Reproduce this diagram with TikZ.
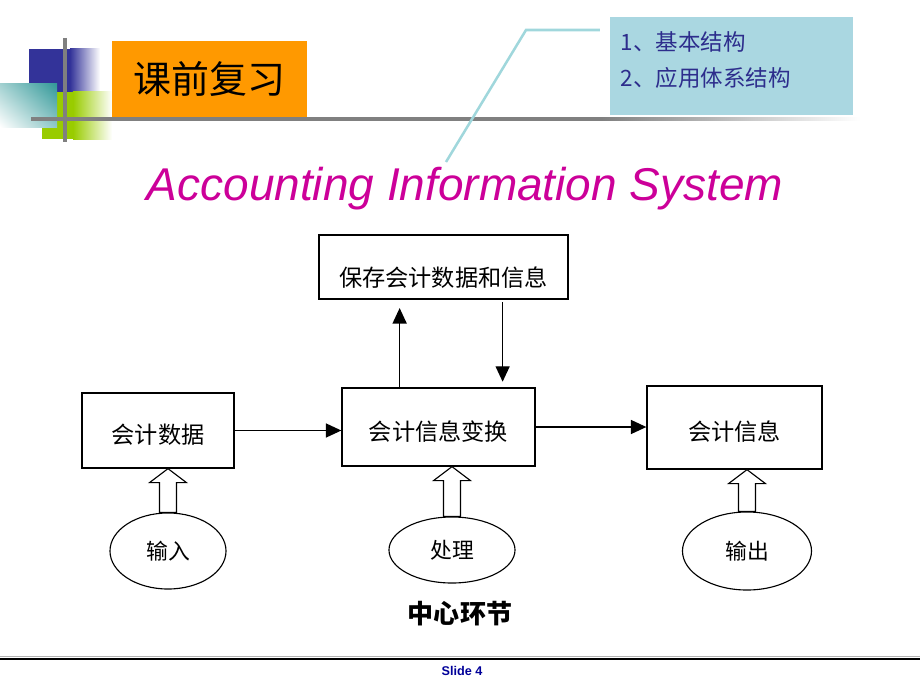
\documentclass[tikz,border=0pt]{standalone}
\usepackage{fontspec}
\usepackage{tikz}
\usetikzlibrary{arrows.meta,calc,shapes.geometric,shadings}
\newfontfamily\cjk{Noto Sans CJK SC}
\newfontfamily\arialfont{Liberation Sans}
\definecolor{slideblue}{RGB}{51,51,153}
\definecolor{slidegreen}{RGB}{153,204,0}
\definecolor{slideteal}{RGB}{51,153,153}
\definecolor{slideorange}{RGB}{255,153,0}
\definecolor{notebox}{RGB}{170,215,225}
\definecolor{notetext}{RGB}{45,45,140}
\definecolor{notelink}{RGB}{160,215,220}
\definecolor{titlepink}{RGB}{204,0,153}
\definecolor{footblue}{RGB}{0,0,153}

\begin{document}
\begin{tikzpicture}[
            > = {Triangle[length=11pt,width=10pt]}, % filled arrow heads
            x = 0.025cm, y = -0.025cm, % one unit per pixel, y downwards
            box/.style = {draw=black, line width=0.9pt, inner sep=0pt, text height=21pt, text depth=2pt,
                          font=\cjk\fontsize{16.5}{19}\selectfont},
            oval/.style = {ellipse, draw=black, line width=0.8pt, inner sep=0pt, font=\cjk\fontsize{15.5}{18}\selectfont},
            hollow/.style = {draw=black, fill=white, line width=0.8pt, line join=miter},
            flow/.style = {->, line width=1pt}
        ]
\useasboundingbox (0,0) rectangle (920,690);

% corner decoration
\fill[slideblue] (29,49) rectangle (70,92);
\shade[left color=slideblue, right color=white] (70,49) rectangle (100,92);
\fill[slidegreen] (42,92) rectangle (73,139);
\shade[left color=slidegreen, right color=white] (73,92) rectangle (112,139);
\shade[upper right=slideteal, lower left=white, upper left=slideteal!45, lower right=slideteal!55] (0,84) rectangle (57,127);
\draw[gray, line width=2.5pt] (65,38) -- (65,142);
\draw[gray, line width=2.5pt] (31,119) -- (600,119);
\shade[left color=gray, right color=white] (600,117.3) rectangle (860,120.7);

% heading and notes
\node[fill=slideorange, minimum width=4.875cm, minimum height=1.9cm, inner sep=0pt,
      font=\cjk\fontsize{27}{32}\selectfont] (review) at (209.5,79) {课前复习};
\node[fill=notebox, minimum width=6.075cm, minimum height=2.45cm, inner sep=0pt] (notes) at (731.5,66) {};
\node[anchor=west, text=notetext, font=\cjk\fontsize{16}{19}\selectfont] (item1) at (616,42) {1、基本结构};
\node[anchor=west, text=notetext, font=\cjk\fontsize{16}{19}\selectfont] (item2) at (616,78) {2、应用体系结构};
\coordinate (bend) at (526,30);
\coordinate (linkend) at (446,162);
\draw[notelink, line width=1.8pt, shorten >=7pt] (linkend) -- (bend) -- (notes.west |- bend);

\node[anchor=base, text=titlepink, font=\arialfont\itshape\fontsize{32.7}{40}\selectfont] (title) at (465,200) {Accounting Information System};

% flow chart
\node[box, text height=30pt, minimum width=6.225cm, minimum height=1.6cm] (store) at (443.5,267) {保存会计数据和信息};
\node[box, minimum width=3.8cm, minimum height=1.875cm] (dat) at (158,430.5) {会计数据};
\node[box, minimum width=4.825cm, minimum height=1.95cm] (trans) at (438.5,427) {会计信息变换};
\node[box, minimum width=4.375cm, minimum height=2.075cm] (info) at (734.5,427.5) {会计信息};

\node[oval, minimum width=2.9cm, minimum height=1.9cm] (inp) at (168,551) {输入};
\node[oval, minimum width=3.15cm, minimum height=1.65cm] (proc) at (452,550) {处理};
\node[oval, minimum width=3.225cm, minimum height=1.95cm] (outp) at (747,551) {输出};

\draw[flow] (dat.east) -- (dat.east -| trans.west);
\draw[flow] (trans.east) -- (trans.east -| info.west);
\coordinate (up) at ($(trans.north west)!0.3!(trans.north east)$);
\coordinate (down) at ($(trans.north west)!0.83!(trans.north east)$);
\draw[flow, shorten >=6pt] (up) -- (up |- store.south);
\draw[flow, shorten <=2pt, shorten >=4pt] (down |- store.south) -- (down);

\foreach \src/\dst in {inp/dat, proc/trans, outp/info} {
  \coordinate (\src-tip) at (\src.north |- \dst.south);
  \draw[hollow] ($(\src.north)+(-8.5,0)$) -- ($(\src-tip)+(-8.5,14)$) -- ($(\src-tip)+(-18.5,14)$)
    -- (\src-tip) -- ($(\src-tip)+(18.5,14)$) -- ($(\src-tip)+(8.5,14)$) -- ($(\src.north)+(8.5,0)$) -- cycle;
}

\node[font=\cjk\bfseries\fontsize{18.5}{22}\selectfont] (core) at (460,614) {中心环节};

% footer
\draw[gray!60, line width=0.8pt] (0,656.5) -- (920,656.5);
\draw[black, line width=1.5pt] (0,659) -- (920,659);
\node[text=footblue, font=\arialfont\bfseries\fontsize{9}{11}\selectfont] (slide) at (462,671) {Slide 4};
\end{tikzpicture}
\end{document}
